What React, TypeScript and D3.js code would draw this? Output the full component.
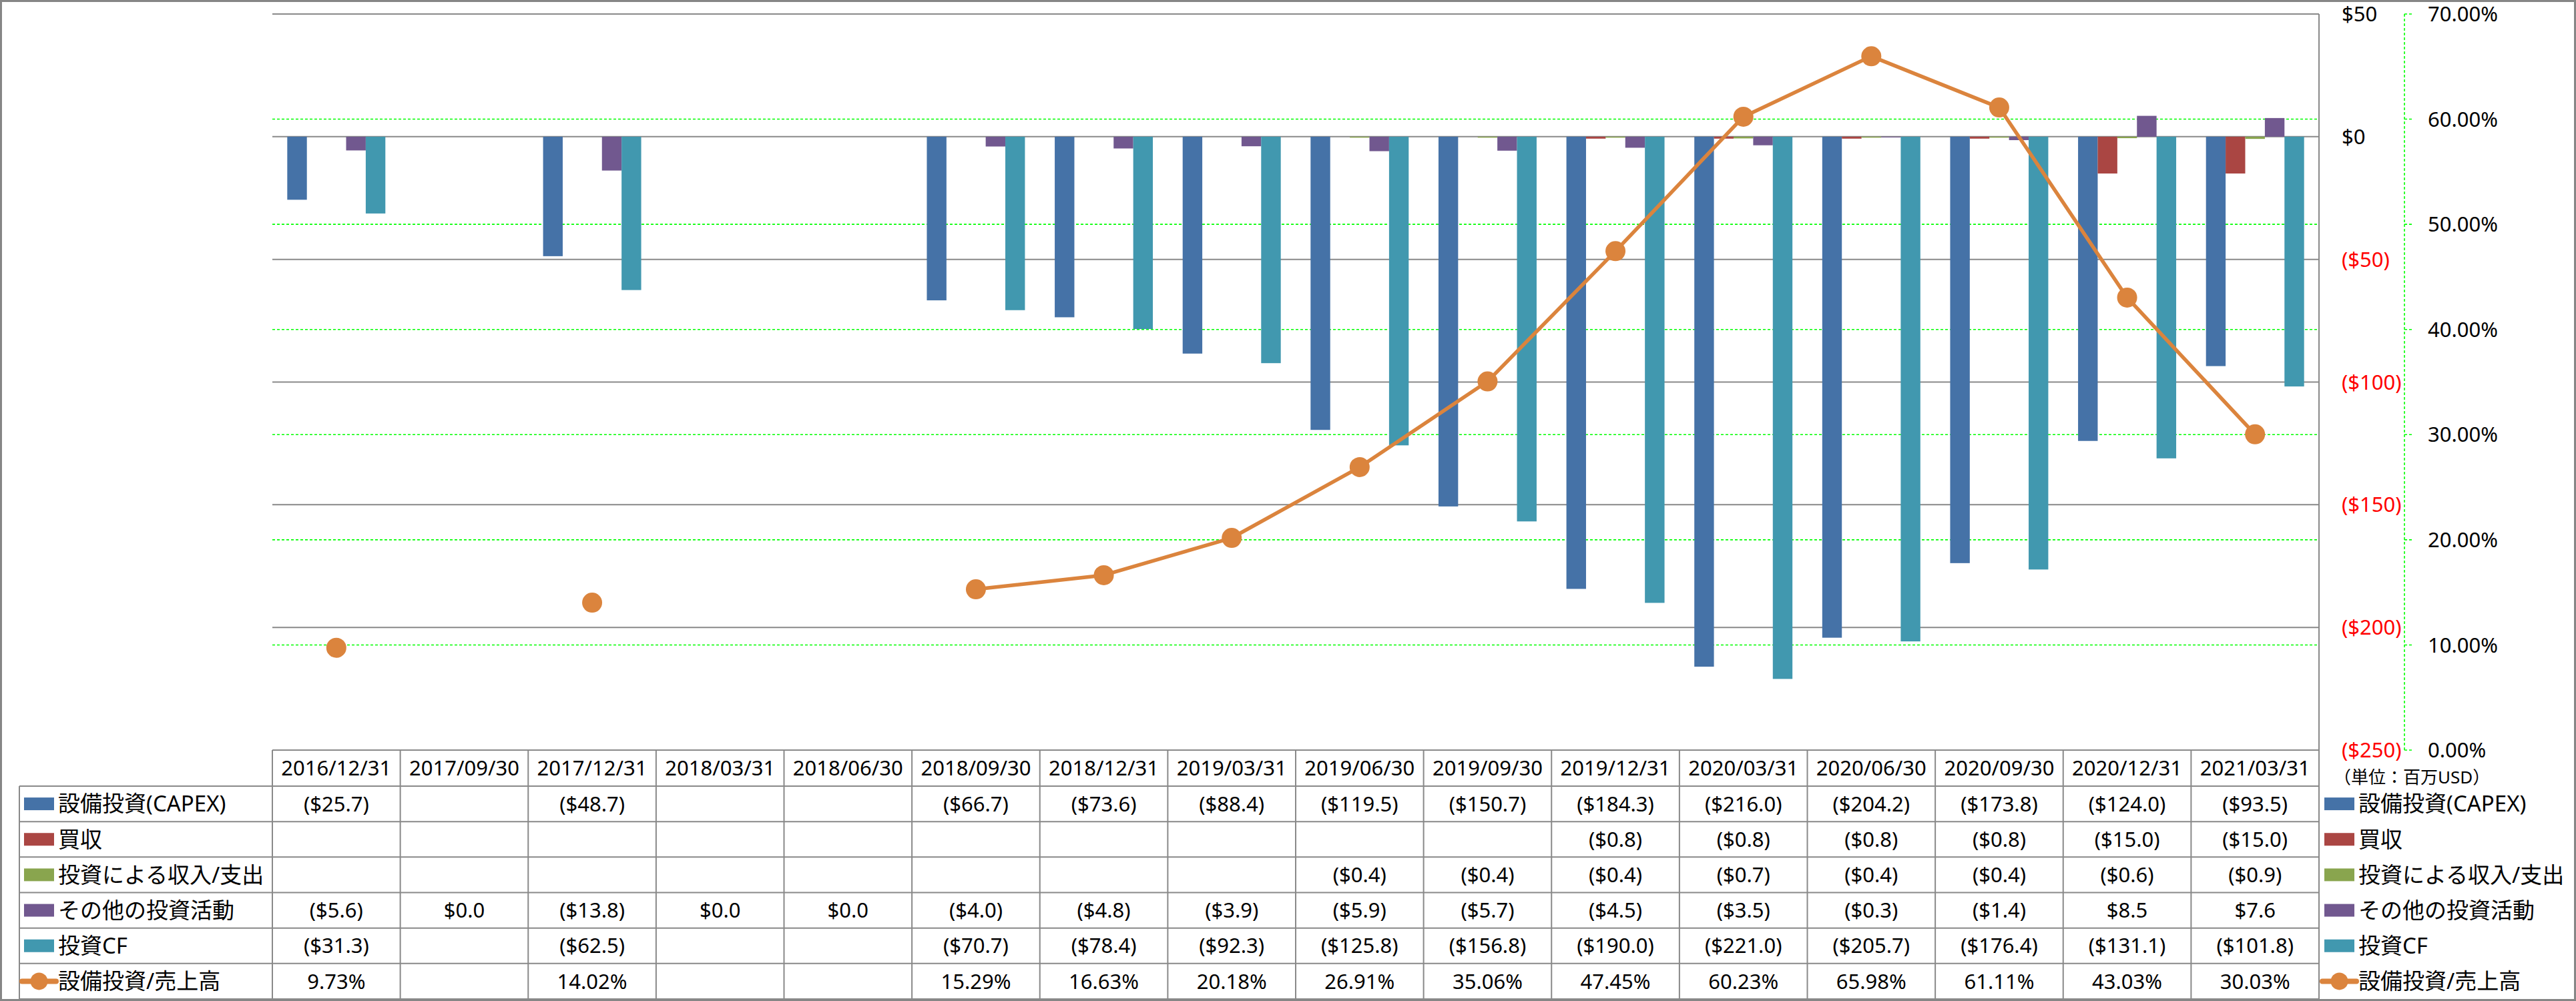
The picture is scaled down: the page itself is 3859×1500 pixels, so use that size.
import React, { useEffect, useRef } from 'react';
import * as d3 from 'd3';

// quarter-end dates shown in the table header
const categories = [
  '2016/12/31', '2017/09/30', '2017/12/31', '2018/03/31', '2018/06/30', '2018/09/30',
  '2018/12/31', '2019/03/31', '2019/06/30', '2019/09/30', '2019/12/31', '2020/03/31',
  '2020/06/30', '2020/09/30', '2020/12/31', '2021/03/31',
];

// million USD
const capex = [-25.7, null, -48.7, null, null, -66.7, -73.6, -88.4, -119.5, -150.7, -184.3, -216.0, -204.2, -173.8, -124.0, -93.5];
const acquisitions = [null, null, null, null, null, null, null, null, null, null, -0.8, -0.8, -0.8, -0.8, -15.0, -15.0];
const investIncome = [null, null, null, null, null, null, null, null, -0.4, -0.4, -0.4, -0.7, -0.4, -0.4, -0.6, -0.9];
const otherInvesting = [-5.6, 0.0, -13.8, 0.0, 0.0, -4.0, -4.8, -3.9, -5.9, -5.7, -4.5, -3.5, -0.3, -1.4, 8.5, 7.6];
const investingCF = [-31.3, null, -62.5, null, null, -70.7, -78.4, -92.3, -125.8, -156.8, -190.0, -221.0, -205.7, -176.4, -131.1, -101.8];
// percent
const capexToSales = [9.73, null, 14.02, null, null, 15.29, 16.63, 20.18, 26.91, 35.06, 47.45, 60.23, 65.98, 61.11, 43.03, 30.03];

const barNames = ['設備投資(CAPEX)', '買収', '投資による収入/支出', 'その他の投資活動', '投資CF'];
const lineName = '設備投資/売上高';
const barColors = ['#4572A7', '#AA4643', '#89A54E', '#71588F', '#4198AF'];
const lineColor = '#DB843D';

const dollarTicks = [50, 0, -50, -100, -150, -200, -250];
const pctTicks = [0, 10, 20, 30, 40, 50, 60, 70];
const unitLabel = '（単位：百万USD）';

type Val = number | null;

const fmtMoney = (v: number) => (v < 0 ? `($${(-v).toFixed(1)})` : `$${v.toFixed(1)}`);
const fmtTick = (v: number) => (v < 0 ? `($${-v})` : `$${v}`);

export default function App() {
  const svgRef = useRef<SVGSVGElement | null>(null);

  useEffect(() => {
    if (!svgRef.current) return;
    const svg = d3.select(svgRef.current);
    svg.selectAll('*').remove();

    const width = 3859;
    const height = 1500;
    const plot = { left: 408, right: 3474, top: 21, bottom: 1124 };
    const table = { left: 29, headerBottom: 1178, bottom: 1497 };
    const font = '"Noto Sans", "Noto Sans CJK JP", sans-serif';
    const gridGray = '#898989';

    const barSeries: Val[][] = [capex, acquisitions, investIncome, otherInvesting, investingCF];

    // chart area
    svg.append('rect')
      .attr('x', 1.5).attr('y', 1.5)
      .attr('width', width - 3).attr('height', height - 3)
      .attr('fill', '#fff').attr('stroke', '#868686').attr('stroke-width', 3);

    const x0 = d3.scaleBand<string>().domain(categories).range([plot.left, plot.right]);
    const bw = x0.bandwidth();
    const groupW = bw * 0.767;
    const x1 = d3.scaleBand<string>().domain(barNames).range([(bw - groupW) / 2, (bw + groupW) / 2]);
    const y = d3.scaleLinear().domain([-250, 50]).range([plot.bottom, plot.top]);
    const yPct = d3.scaleLinear().domain([0, 70]).range([plot.bottom, plot.top]);

    // secondary (percent) gridlines
    svg.append('g')
      .selectAll('line')
      .data(pctTicks.filter(t => t > 0 && t < 70))
      .join('line')
      .attr('x1', plot.left).attr('x2', plot.right)
      .attr('y1', d => yPct(d)).attr('y2', d => yPct(d))
      .attr('stroke', '#00FF00').attr('stroke-width', 1.6).attr('stroke-dasharray', '4,3');

    // primary gridlines
    svg.append('g')
      .selectAll('line')
      .data(dollarTicks)
      .join('line')
      .attr('x1', plot.left).attr('x2', plot.right)
      .attr('y1', d => y(d)).attr('y2', d => y(d))
      .attr('stroke', gridGray).attr('stroke-width', 2);

    // bars
    barSeries.forEach((values, s) => {
      svg.append('g')
        .attr('fill', barColors[s])
        .selectAll('rect')
        .data(values.map((v, i) => ({ v, cat: categories[i] })).filter(d => d.v != null && d.v !== 0))
        .join('rect')
        .attr('x', d => (x0(d.cat) ?? 0) + (x1(barNames[s]) ?? 0))
        .attr('width', x1.bandwidth())
        .attr('y', d => y(Math.max(0, d.v as number)))
        .attr('height', d => Math.abs(y(d.v as number) - y(0)));
    });

    // ratio line
    const cx = (i: number) => (x0(categories[i]) ?? 0) + bw / 2;
    const line = d3.line<Val>()
      .defined(d => d != null)
      .x((_, i) => cx(i))
      .y(d => yPct(d as number));

    svg.append('path')
      .datum(capexToSales)
      .attr('fill', 'none')
      .attr('stroke', lineColor)
      .attr('stroke-width', 5.5)
      .attr('stroke-linejoin', 'round')
      .attr('d', line);

    svg.append('g')
      .selectAll('circle')
      .data(capexToSales.map((v, i) => ({ v, i })).filter(d => d.v != null))
      .join('circle')
      .attr('cx', d => cx(d.i))
      .attr('cy', d => yPct(d.v as number))
      .attr('r', 15)
      .attr('fill', lineColor);

    // right border of plot / table
    svg.append('line')
      .attr('x1', plot.right).attr('x2', plot.right)
      .attr('y1', plot.top).attr('y2', table.bottom)
      .attr('stroke', gridGray).attr('stroke-width', 2);

    // dollar axis labels
    svg.append('g')
      .selectAll('text')
      .data(dollarTicks)
      .join('text')
      .attr('x', 3508)
      .attr('y', d => y(d))
      .attr('dy', '0.36em')
      .attr('font-family', font)
      .attr('font-size', 31)
      .attr('fill', d => (d < 0 ? '#FF0000' : '#000'))
      .text(d => fmtTick(d));

    // percent axis
    const pctAxisX = 3602;
    svg.append('line')
      .attr('x1', pctAxisX).attr('x2', pctAxisX)
      .attr('y1', plot.top).attr('y2', plot.bottom)
      .attr('stroke', '#00FF00').attr('stroke-width', 1.6).attr('stroke-dasharray', '4,3');
    svg.append('g')
      .selectAll('line')
      .data(pctTicks)
      .join('line')
      .attr('x1', pctAxisX).attr('x2', pctAxisX + 12)
      .attr('y1', d => yPct(d)).attr('y2', d => yPct(d))
      .attr('stroke', '#00FF00').attr('stroke-width', 1.6).attr('stroke-dasharray', '4,3');
    svg.append('g')
      .selectAll('text')
      .data(pctTicks)
      .join('text')
      .attr('x', 3637)
      .attr('y', d => yPct(d))
      .attr('dy', '0.36em')
      .attr('font-family', font)
      .attr('font-size', 31)
      .text(d => `${d.toFixed(2)}%`);

    svg.append('text')
      .attr('x', 3496)
      .attr('y', 1165)
      .attr('dy', '0.36em')
      .attr('font-family', font)
      .attr('font-size', 26)
      .text(unitLabel);

    // data table
    const rowH = (table.bottom - table.headerBottom) / 6;
    const rowY = (r: number) => table.headerBottom + r * rowH;
    const tbl = svg.append('g').attr('stroke', gridGray).attr('stroke-width', 2);

    tbl.append('line')
      .attr('x1', plot.left).attr('x2', plot.right)
      .attr('y1', plot.bottom).attr('y2', plot.bottom);
    d3.range(7).forEach(r => {
      tbl.append('line')
        .attr('x1', table.left).attr('x2', plot.right)
        .attr('y1', rowY(r)).attr('y2', rowY(r));
    });
    tbl.append('line')
      .attr('x1', table.left).attr('x2', table.left)
      .attr('y1', table.headerBottom).attr('y2', table.bottom);
    categories.forEach(c => {
      const xl = x0(c) ?? 0;
      tbl.append('line')
        .attr('x1', xl).attr('x2', xl)
        .attr('y1', plot.bottom).attr('y2', table.bottom);
    });

    const txt = svg.append('g').attr('font-family', font).attr('fill', '#000');

    // header dates
    categories.forEach((c, i) => {
      txt.append('text')
        .attr('x', cx(i))
        .attr('y', (plot.bottom + table.headerBottom) / 2)
        .attr('dy', '0.36em')
        .attr('text-anchor', 'middle')
        .attr('font-size', 31)
        .text(c);
    });

    // value rows
    const rows: { values: Val[]; fmt: (v: number) => string }[] = [
      ...barSeries.map(values => ({ values, fmt: fmtMoney })),
      { values: capexToSales, fmt: (v: number) => `${v.toFixed(2)}%` },
    ];
    rows.forEach((row, r) => {
      const cy = rowY(r) + rowH / 2;
      row.values.forEach((v, i) => {
        if (v == null) return;
        txt.append('text')
          .attr('x', cx(i))
          .attr('y', cy)
          .attr('dy', '0.36em')
          .attr('text-anchor', 'middle')
          .attr('font-size', 31)
          .text(row.fmt(v));
      });
    });

    // legend keys, once inside the table and once at the right
    const legendNames = [...barNames, lineName];
    const drawKey = (kx: number, tx: number) => {
      legendNames.forEach((name, r) => {
        const cy = rowY(r) + rowH / 2;
        if (r < barNames.length) {
          svg.append('rect')
            .attr('x', kx).attr('y', cy - 9.5)
            .attr('width', 45).attr('height', 19)
            .attr('fill', barColors[r]);
        } else {
          svg.append('line')
            .attr('x1', kx - 3).attr('x2', kx + 48)
            .attr('y1', cy).attr('y2', cy)
            .attr('stroke', lineColor).attr('stroke-width', 8).attr('stroke-linecap', 'round');
          svg.append('circle')
            .attr('cx', kx + 22.5).attr('cy', cy).attr('r', 13)
            .attr('fill', lineColor);
        }
        svg.append('text')
          .attr('x', tx)
          .attr('y', cy)
          .attr('dy', '0.36em')
          .attr('font-family', font)
          .attr('font-size', 33)
          .attr('fill', '#000')
          .text(name);
      });
    };
    drawKey(36, 87);
    drawKey(3482, 3533);
  }, []);

  return (
    <svg
      ref={svgRef}
      width={3859}
      height={1500}
      style={{ position: 'absolute', left: 0, top: 0, background: '#fff' }}
    />
  );
}
